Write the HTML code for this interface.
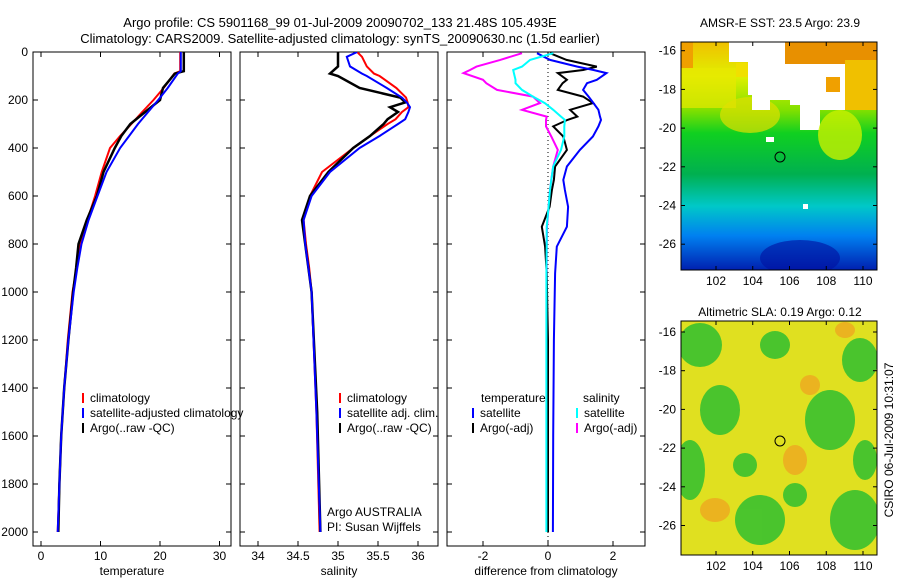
<!DOCTYPE html>
<html><head><meta charset="utf-8"><style>
body{margin:0;background:#fff}
svg{display:block;font-family:"Liberation Sans",sans-serif}
text{font-size:12px;fill:#000}
</style></head><body>
<svg id="s" width="900" height="580" viewBox="0 0 900 580">
<defs>
<linearGradient id="sst" x1="0" y1="0" x2="0" y2="1">
<stop offset="0" stop-color="#f0c000"/><stop offset="0.15" stop-color="#e0f000"/><stop offset="0.3" stop-color="#80e000"/><stop offset="0.4" stop-color="#10d020"/>
<stop offset="0.58" stop-color="#00b050"/><stop offset="0.72" stop-color="#00c8c8"/><stop offset="0.85" stop-color="#0080f0"/><stop offset="1" stop-color="#0020b0"/>
</linearGradient>
<clipPath id="c1"><rect x="681" y="42" width="196" height="228"/></clipPath>
<clipPath id="c2"><rect x="681" y="321" width="196" height="234"/></clipPath>
<clipPath id="p1"><rect x="33" y="52" width="198" height="494"/></clipPath>
<clipPath id="p2"><rect x="240" y="52" width="198" height="494"/></clipPath>
<clipPath id="p3"><rect x="447" y="52" width="198" height="494"/></clipPath>
</defs>
<text x="340" y="27" text-anchor="middle" style="font-size:13px">Argo profile: CS 5901168_99 01-Jul-2009 20090702_133 21.48S 105.493E</text>
<text x="340" y="43" text-anchor="middle" style="font-size:13px">Climatology: CARS2009. Satellite-adjusted climatology: synTS_20090630.nc (1.5d earlier)</text>

<g>
<text x="780" y="27" text-anchor="middle">AMSR-E SST: 23.5 Argo: 23.9</text>
<g clip-path="url(#c1)">
<rect x="681" y="42" width="196" height="228" fill="url(#sst)"/>
<rect x="681" y="42" width="12" height="26" fill="#f0a000"/>
<rect x="681" y="68" width="55" height="40" fill="#e8e800" opacity="0.7"/>
<ellipse cx="750" cy="115" rx="30" ry="18" fill="#e0e000" opacity="0.7"/>
<rect x="785" y="42" width="92" height="22" fill="#e89000"/>
<rect x="845" y="60" width="32" height="50" fill="#f0c000"/>
<path d="M729 42 H785 V64 H826 V110 H820 V130 H800 V105 H790 V100 H770 V110 H752 V95 H748 V62 H729 Z" fill="#fff"/>
<path d="M826 64 H845 V110 H826 Z" fill="#fff"/>
<rect x="736" y="63" width="12" height="14" fill="#f0e000"/>
<rect x="826" y="77" width="14" height="15" fill="#f0a000"/>
<ellipse cx="840" cy="135" rx="22" ry="25" fill="#c8f000" opacity="0.8"/>
<rect x="766" y="137" width="8" height="5" fill="#fff"/>
<rect x="803" y="204" width="5" height="5" fill="#fff"/>
<ellipse cx="800" cy="258" rx="40" ry="18" fill="#0010a0" opacity="0.6"/>
</g>
<rect x="681" y="42" width="196" height="228" fill="none" stroke="#000"/>
<circle cx="780" cy="157" r="5" fill="none" stroke="#000"/>
</g>

<g>
<text x="780" y="316" text-anchor="middle">Altimetric SLA: 0.19 Argo: 0.12</text>
<g clip-path="url(#c2)">
<rect x="681" y="321" width="196" height="234" fill="#e0e020"/>
<g fill="#30c030" opacity="0.85">
<ellipse cx="775" cy="345" rx="15" ry="14"/><ellipse cx="700" cy="345" rx="22" ry="22"/>
<ellipse cx="860" cy="360" rx="18" ry="22"/><ellipse cx="720" cy="410" rx="20" ry="25"/>
<ellipse cx="830" cy="420" rx="25" ry="30"/><ellipse cx="690" cy="470" rx="15" ry="30"/>
<ellipse cx="760" cy="520" rx="25" ry="25"/><ellipse cx="855" cy="520" rx="25" ry="30"/>
<ellipse cx="745" cy="465" rx="12" ry="12"/><ellipse cx="795" cy="495" rx="12" ry="12"/>
<ellipse cx="865" cy="460" rx="12" ry="20"/>
</g>
<g fill="#f0a020" opacity="0.7">
<ellipse cx="795" cy="460" rx="12" ry="15"/><ellipse cx="715" cy="510" rx="15" ry="12"/>
<ellipse cx="845" cy="330" rx="10" ry="8"/><ellipse cx="810" cy="385" rx="10" ry="10"/>
</g>
</g>
<rect x="681" y="321" width="196" height="234" fill="none" stroke="#000"/>
<circle cx="780" cy="441" r="5" fill="none" stroke="#000"/>
</g>
<text transform="translate(893,440) rotate(-90)" text-anchor="middle">CSIRO 06-Jul-2009 10:31:07</text>
<g id="dyn"></g>
</svg>
<script>
const depthT = [0,80,90,150,200,250,300,350,400,500,600,700,800,900,1000,1200,1400,1600,1800,2000];
const tempArgo = [24,24,22.5,20.5,20,17.5,15,13.5,12.4,10.5,9.4,7.7,6.3,5.9,5.4,4.6,3.9,3.4,3.1,2.9];
const tempClim = [23.4,23.4,22.4,20.6,18.9,17,15.2,13.3,11.6,10.2,9.1,7.8,6.6,6,5.3,4.5,3.9,3.4,3.1,2.8];
const tempSat = [23.5,23.5,23,21.3,19.7,18,16.3,14.8,13.3,11,9.5,8,6.8,6.1,5.5,4.6,3.9,3.4,3.1,2.8];
const depthS = [0,20,60,90,100,150,190,210,230,250,280,300,350,400,500,600,700,800,900,1000,1500,2000];
const salArgo = [35,35,35,34.9,35,35.27,35.78,35.84,35.65,35.75,35.62,35.57,35.4,35.19,34.88,34.65,34.55,34.59,34.63,34.67,34.74,34.78];
const salClim = [35.24,35.3,35.36,35.45,35.52,35.73,35.85,35.87,35.88,35.8,35.72,35.62,35.4,35.19,34.8,34.65,34.57,34.6,34.64,34.67,34.73,34.77];
const salSat = [35.24,35.11,35.15,35.3,35.36,35.61,35.8,35.86,35.9,35.88,35.84,35.75,35.52,35.27,34.9,34.67,34.57,34.59,34.63,34.67,34.73,34.78];
const dDepth = [5,33,61,75,88,116,130,158,186,213,241,269,283,310,352,408,477,533,575,645,728,811,922,1200,1600,2000];
const dTempSat = [-0.34,0.06,0.9,1.4,1.8,1.5,1.2,1.08,1.25,1.4,1.55,1.6,1.63,1.55,1.38,0.98,0.58,0.47,0.52,0.62,0.58,0.27,0.22,0.18,0.16,0.15];
const dTempArgo = [0.06,0.57,1.5,1.08,0.3,0.58,0.45,0.3,1.08,1.38,0.68,0.9,0.6,0.16,0.47,0.58,0.22,0.18,0.12,0.05,-0.19,-0.09,-0.04,0,0,0];
const dSalSat = [0.16,-0.55,-0.8,-1.07,-1.05,-1.0,-1.0,-0.8,-0.46,-0.1,0.16,0.4,0.52,0.5,0.5,0.4,0.16,0.1,0.06,0.02,-0.04,-0.04,-0.05,-0.05,-0.05,-0.05];
const dSalArgo = [-0.8,-1.47,-2.2,-2.4,-2.6,-2.0,-1.9,-1.57,-0.46,-0.25,-0.8,-0.04,-0.06,-0.06,0.1,0.3,0.16,0.1,0.06,0.02,-0.03,-0.04,-0.04,-0.04,-0.04,-0.04];
const tempTicks = [0,10,20,30], salTicks = [34,34.5,35,35.5,36], diffTicks = [-2,0,2];
const depthTicks = [0,200,400,600,800,1000,1200,1400,1600,1800,2000];
const latTicks = [-16,-18,-20,-22,-24,-26], lonTicks = [102,104,106,108,110];

const NS='http://www.w3.org/2000/svg', G=document.getElementById('dyn');
function mk(t,a,p){const e=document.createElementNS(NS,t);for(const k in a)e.setAttribute(k,a[k]);(p||G).appendChild(e);return e;}
const yD = d => 52 + d*0.24;
const panels = [
 {x0:33, sx:v=>41+v*5.95, ticks:tempTicks, lab:'temperature', name:'temperature-panel', clip:'p1'},
 {x0:240, sx:v=>258+(v-34)*80, ticks:salTicks, lab:'salinity', name:'salinity-panel', clip:'p2'},
 {x0:447, sx:v=>548+v*32.5, ticks:diffTicks, lab:'difference from climatology', name:'difference-panel', clip:'p3'}];
panels.forEach((p,i)=>{
  const g=mk('g',{});
  
  
  const r=mk('rect',{x:p.x0,y:52,width:198,height:494,fill:'none',stroke:'#000'},g);
  p.ticks.forEach(t=>{const x=p.sx(t);
    mk('line',{x1:x,x2:x,y1:546,y2:541,stroke:'#000'},g);mk('line',{x1:x,x2:x,y1:52,y2:57,stroke:'#000'},g);
    const tx=mk('text',{x:x,y:560,'text-anchor':'middle'},g);tx.textContent=String(t);
    
    });
  depthTicks.forEach(d=>{const y=yD(d);
    mk('line',{x1:p.x0,x2:p.x0+5,y1:y,y2:y,stroke:'#000'},g);mk('line',{x1:p.x0+198,x2:p.x0+193,y1:y,y2:y,stroke:'#000'},g);
    if(i==0){const tx=mk('text',{x:28,y:y+4,'text-anchor':'end'},g);tx.textContent=String(d);
      
      }});
  const xl=mk('text',{x:p.x0+99,y:575,'text-anchor':'middle'},g);xl.textContent=p.lab;
  
  
});
function line(vals,deps,p,col,w,name){
  const pts=vals.map((v,i)=>p.sx(v).toFixed(1)+','+yD(deps[i]).toFixed(1)).join(' ');
  const e=mk('polyline',{points:pts,fill:'none',stroke:col,'stroke-width':w,'clip-path':'url(#'+p.clip+')'});
  
  
}
const P=panels;
mk('line',{x1:548,x2:548,y1:52,y2:546,stroke:'#000','stroke-dasharray':'1,3'});
line(tempClim,depthT,P[0],'#f00',2,'temp-climatology-line');
line(tempArgo,depthT,P[0],'#000',2.5,'temp-argo-line');
line(tempSat,depthT,P[0],'#00f',2,'temp-satellite-line');
line(salClim,depthS,P[1],'#f00',2,'sal-climatology-line');
line(salArgo,depthS,P[1],'#000',2.5,'sal-argo-line');
line(salSat,depthS,P[1],'#00f',2,'sal-satellite-line');
line(dSalArgo,dDepth,P[2],'#f0f',2,'diff-sal-argo-line');
line(dTempArgo,dDepth,P[2],'#000',2,'diff-temp-argo-line');
line(dTempSat,dDepth,P[2],'#00f',2,'diff-temp-satellite-line');
line(dSalSat,dDepth,P[2],'#0ff',2,'diff-sal-satellite-line');
function leg(x,y,col,txt){
  mk('line',{x1:x,x2:x,y1:y-9,y2:y+1,stroke:col,'stroke-width':2});
  const t=mk('text',{x:x+7,y:y});t.textContent=txt;
  
  
}
leg(83,402,'#f00','climatology');leg(83,417,'#00f','satellite-adjusted climatology');leg(83,432,'#000','Argo(..raw -QC)');
leg(340,402,'#f00','climatology');leg(340,417,'#00f','satellite adj. clim.');leg(340,432,'#000','Argo(..raw -QC)');
let t=mk('text',{x:481,y:402});t.textContent='temperature';


t=mk('text',{x:583,y:402});t.textContent='salinity';


leg(473,417,'#00f','satellite');leg(473,432,'#000','Argo(-adj)');
leg(577,417,'#0ff','satellite');leg(577,432,'#f0f','Argo(-adj)');
t=mk('text',{x:327,y:516});t.textContent='Argo AUSTRALIA';


t=mk('text',{x:327,y:531});t.textContent='PI: Susan Wijffels';


[[42,270,50.7],[321,555,332]].forEach(m=>{
  latTicks.forEach(l=>{const y=m[2]+(-16-l)*19.35;
    mk('line',{x1:681,x2:685,y1:y,y2:y,stroke:'#000'});mk('line',{x1:877,x2:873,y1:y,y2:y,stroke:'#000'});
    const tx=mk('text',{x:676,y:y+4,'text-anchor':'end'});tx.textContent=String(l);
    
    });
  lonTicks.forEach(l=>{const x=716+(l-102)*18.375;
    mk('line',{x1:x,x2:x,y1:m[1],y2:m[1]-4,stroke:'#000'});mk('line',{x1:x,x2:x,y1:m[0],y2:m[0]+4,stroke:'#000'});
    const tx=mk('text',{x:x,y:m[1]+15,'text-anchor':'middle'});tx.textContent=String(l);
    
    });
});
</script>
</body></html>
